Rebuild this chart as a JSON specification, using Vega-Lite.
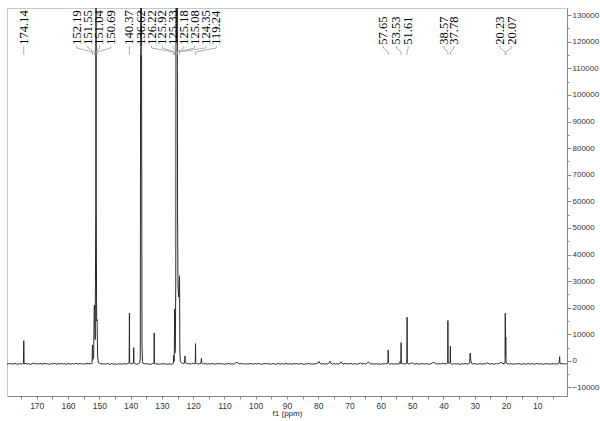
{
  "$schema": "https://vega.github.io/schema/vega-lite/v6.json",
  "width": 560,
  "height": 388,
  "autosize": {"type": "none"},
  "padding": {"left": 7, "top": 8, "right": 33, "bottom": 25},
  "background": "white",
  "config": {"view": {"stroke": "#c8c8c8", "strokeWidth": 1}},
  "datasets": {
    "spec": [
      {"p":179.5,"v":-1150},{"p":179,"v":-950},{"p":178.5,"v":-1200},{"p":178,"v":-1000},{"p":177.5,"v":-1250},{"p":177,"v":-900},{"p":176.5,"v":-1100},{"p":176,"v":-1300},{"p":175.5,"v":-950},{"p":175,"v":-1150},{"p":174.5,"v":-1050},
      {"p":174.25,"v":-1000},{"p":174.14,"v":7600},{"p":174.03,"v":-1100},
      {"p":173.5,"v":-900},{"p":173,"v":-1200},{"p":172.5,"v":-1000},{"p":172,"v":-1300},{"p":171.5,"v":-1050},{"p":171,"v":-850},{"p":170.5,"v":-1150},{"p":170,"v":-1000},{"p":169.5,"v":-1250},{"p":169,"v":-950},{"p":168.5,"v":-1100},{"p":168,"v":-1200},{"p":167.5,"v":-900},{"p":167,"v":-1150},{"p":166.5,"v":-1050},{"p":166,"v":-1300},{"p":165.5,"v":-1000},{"p":165,"v":-1150},{"p":164.5,"v":-850},{"p":164,"v":-1100},{"p":163.5,"v":-1250},{"p":163,"v":-1000},{"p":162.5,"v":-1150},{"p":162,"v":-900},{"p":161.5,"v":-1200},{"p":161,"v":-1050},{"p":160.5,"v":-1300},{"p":160,"v":-950},{"p":159.5,"v":-1100},{"p":159,"v":-1200},{"p":158.5,"v":-1000},{"p":158,"v":-1250},{"p":157.5,"v":-900},{"p":157,"v":-1100},{"p":156.5,"v":-1150},{"p":156,"v":-950},{"p":155.5,"v":-1250},{"p":155,"v":-1050},{"p":154.5,"v":-1200},{"p":154,"v":-900},{"p":153.5,"v":-1100},{"p":153,"v":-1000},{"p":152.5,"v":-1150},
      {"p":152.3,"v":-900},{"p":152.19,"v":6000},{"p":152.08,"v":500},{"p":151.8,"v":1500},{"p":151.62,"v":20000},{"p":151.55,"v":21000},{"p":151.3,"v":8000},{"p":151.12,"v":60000},{"p":151.04,"v":200000},{"p":150.97,"v":60000},{"p":150.85,"v":15000},{"p":150.69,"v":15500},{"p":150.55,"v":2000},{"p":150.3,"v":-700},
      {"p":150,"v":-900},{"p":149.5,"v":-1000},{"p":149,"v":-1200},{"p":148.5,"v":-1050},{"p":148,"v":-1250},{"p":147.5,"v":-950},{"p":147,"v":-1150},{"p":146.5,"v":-1300},{"p":146,"v":-1000},{"p":145.5,"v":-1200},{"p":145,"v":-1100},{"p":144.5,"v":-1350},{"p":144,"v":-1000},{"p":143.5,"v":-1250},{"p":143,"v":-1100},{"p":142.5,"v":-1300},{"p":142,"v":-950},{"p":141.5,"v":-1200},{"p":141,"v":-1050},{"p":140.6,"v":-800},
      {"p":140.45,"v":-900},{"p":140.37,"v":18000},{"p":140.29,"v":-700},{"p":140,"v":-1000},{"p":139.5,"v":-1100},{"p":139.1,"v":-800},{"p":139.0,"v":5000},{"p":138.9,"v":-700},{"p":138.5,"v":-1100},{"p":138,"v":-1250},{"p":137.5,"v":-1050},{"p":137.1,"v":-900},
      {"p":136.9,"v":1000},{"p":136.78,"v":140000},{"p":136.7,"v":200000},{"p":136.6,"v":200000},{"p":136.5,"v":130000},{"p":136.35,"v":6000},{"p":136.2,"v":-300},
      {"p":136,"v":-1000},{"p":135.5,"v":-1150},{"p":135,"v":-950},{"p":134.5,"v":-1250},{"p":134,"v":-1100},{"p":133.5,"v":-1300},{"p":133,"v":-1000},{"p":132.6,"v":-1150},
      {"p":132.52,"v":-900},{"p":132.45,"v":10500},{"p":132.38,"v":-900},
      {"p":132,"v":-1200},{"p":131.5,"v":-1050},{"p":131,"v":-1300},{"p":130.5,"v":-1100},{"p":130,"v":-1250},{"p":129.5,"v":-1000},{"p":129,"v":-1200},{"p":128.5,"v":-1150},{"p":128,"v":-1300},{"p":127.5,"v":-1050},{"p":127,"v":-1250},{"p":126.5,"v":-1100},
      {"p":126.3,"v":-900},{"p":126.22,"v":2000},{"p":126.1,"v":-200},{"p":126.0,"v":4000},{"p":125.92,"v":19500},{"p":125.82,"v":3000},{"p":125.7,"v":6000},{"p":125.55,"v":30000},{"p":125.45,"v":200000},{"p":125.33,"v":200000},{"p":125.25,"v":120000},{"p":125.18,"v":200000},{"p":125.12,"v":130000},{"p":125.08,"v":200000},{"p":125.0,"v":60000},{"p":124.85,"v":28000},{"p":124.6,"v":24000},{"p":124.45,"v":30000},{"p":124.35,"v":32000},{"p":124.25,"v":4000},{"p":124.1,"v":-300},
      {"p":123.8,"v":-700},{"p":123.5,"v":-900},{"p":123,"v":-1000},{"p":122.7,"v":-800},{"p":122.62,"v":1800},{"p":122.55,"v":-600},{"p":122.2,"v":-900},{"p":122,"v":-1100},{"p":121.5,"v":-1000},{"p":121,"v":-1200},{"p":120.5,"v":-1050},{"p":120,"v":-900},{"p":119.5,"v":-1150},
      {"p":119.32,"v":-900},{"p":119.24,"v":6500},{"p":119.16,"v":-800},
      {"p":119,"v":-1000},{"p":118.5,"v":-1200},{"p":118,"v":-1050},{"p":117.5,"v":-900},{"p":117.35,"v":1000},{"p":117.25,"v":-800},{"p":117,"v":-1000},{"p":116.5,"v":-1150},{"p":116,"v":-950},{"p":115.5,"v":-1250},{"p":115,"v":-1050},{"p":114.5,"v":-1200},{"p":114,"v":-950},{"p":113.5,"v":-1100},{"p":113,"v":-1250},{"p":112.5,"v":-1000},{"p":112,"v":-1150},{"p":111.5,"v":-900},{"p":111,"v":-1200},{"p":110.5,"v":-1050},{"p":110,"v":-1300},{"p":109.5,"v":-1000},{"p":109,"v":-1150},{"p":108.5,"v":-950},{"p":108,"v":-1200},{"p":107.5,"v":-1100},{"p":107,"v":-1300},{"p":106.5,"v":-800},{"p":106,"v":-500},{"p":105.5,"v":-1000},{"p":105,"v":-1150},{"p":104.5,"v":-900},{"p":104,"v":-1200},{"p":103.5,"v":-1050},{"p":103,"v":-1250},{"p":102.5,"v":-1000},{"p":102,"v":-1150},{"p":101.5,"v":-950},{"p":101,"v":-1250},{"p":100.5,"v":-1100},{"p":100,"v":-1000},
      {"p":99.5,"v":-1200},{"p":99,"v":-950},{"p":98.5,"v":-1150},{"p":98,"v":-1300},{"p":97.5,"v":-1000},{"p":97,"v":-1100},{"p":96.5,"v":-900},{"p":96,"v":-1200},{"p":95.5,"v":-1050},{"p":95,"v":-1250},{"p":94.5,"v":-1000},{"p":94,"v":-1150},{"p":93.5,"v":-1300},{"p":93,"v":-950},{"p":92.5,"v":-1100},{"p":92,"v":-1200},{"p":91.5,"v":-1000},{"p":91,"v":-1250},{"p":90.5,"v":-900},{"p":90,"v":-1100},{"p":89.5,"v":-1200},{"p":89,"v":-1000},{"p":88.5,"v":-1300},{"p":88,"v":-1050},{"p":87.5,"v":-1150},{"p":87,"v":-950},{"p":86.5,"v":-1250},{"p":86,"v":-1100},{"p":85.5,"v":-1000},{"p":85,"v":-1200},{"p":84.5,"v":-1300},{"p":84,"v":-1050},{"p":83.5,"v":-1150},{"p":83,"v":-900},{"p":82.5,"v":-1200},{"p":82,"v":-1100},{"p":81.5,"v":-1250},{"p":81,"v":-1000},{"p":80.5,"v":-1100},{"p":80,"v":-700},{"p":79.8,"v":-200},{"p":79.5,"v":-900},{"p":79,"v":-1150},{"p":78.5,"v":-1000},{"p":78,"v":-1250},{"p":77.5,"v":-1050},{"p":77,"v":-1200},{"p":76.5,"v":-600},{"p":76.3,"v":-100},{"p":76,"v":-900},{"p":75.5,"v":-1150},{"p":75,"v":-1000},{"p":74.5,"v":-1250},{"p":74,"v":-1050},{"p":73.5,"v":-1200},{"p":73,"v":-900},{"p":72.7,"v":-300},{"p":72.4,"v":-900},{"p":72,"v":-1100},{"p":71.5,"v":-950},{"p":71,"v":-1200},{"p":70.5,"v":-1000},{"p":70,"v":-1150},
      {"p":69.5,"v":-900},{"p":69,"v":-1250},{"p":68.5,"v":-1050},{"p":68,"v":-1100},{"p":67.5,"v":-1300},{"p":67,"v":-1000},{"p":66.5,"v":-800},{"p":66,"v":-1150},{"p":65.5,"v":-1000},{"p":65,"v":-1200},{"p":64.5,"v":-900},{"p":64,"v":-400},{"p":63.5,"v":-1000},{"p":63,"v":-1150},{"p":62.5,"v":-1050},{"p":62,"v":-1250},{"p":61.5,"v":-1000},{"p":61,"v":-1200},{"p":60.5,"v":-1100},{"p":60,"v":-1300},{"p":59.5,"v":-1050},{"p":59,"v":-1150},{"p":58.5,"v":-1000},{"p":58,"v":-1200},{"p":57.8,"v":-900},
      {"p":57.72,"v":-800},{"p":57.65,"v":4100},{"p":57.58,"v":-800},
      {"p":57.3,"v":-1100},{"p":57,"v":-1250},{"p":56.5,"v":-1000},{"p":56,"v":-1150},{"p":55.5,"v":-1200},{"p":55,"v":-1050},{"p":54.5,"v":-1250},{"p":54,"v":-900},{"p":53.9,"v":-300},{"p":53.7,"v":-1000},
      {"p":53.6,"v":-900},{"p":53.53,"v":6900},{"p":53.46,"v":-900},
      {"p":53,"v":-1150},{"p":52.5,"v":-1050},{"p":52,"v":-1200},{"p":51.8,"v":-1000},
      {"p":51.68,"v":-900},{"p":51.61,"v":16400},{"p":51.54,"v":-900},
      {"p":51.3,"v":-1050},{"p":51,"v":-1200},{"p":50.5,"v":-1000},{"p":50,"v":-700},{"p":49.5,"v":-1100},{"p":49,"v":-1200},{"p":48.5,"v":-1000},{"p":48,"v":-1150},{"p":47.5,"v":-1250},{"p":47,"v":-950},{"p":46.5,"v":-1100},{"p":46,"v":-1200},{"p":45.5,"v":-1000},{"p":45,"v":-1150},{"p":44.5,"v":-1250},{"p":44,"v":-1050},{"p":43.5,"v":-700},{"p":43,"v":-600},{"p":42.5,"v":-1000},{"p":42,"v":-1150},{"p":41.5,"v":-1050},{"p":41,"v":-1200},{"p":40.5,"v":-950},{"p":40,"v":-1100},{"p":39.5,"v":-1000},{"p":39,"v":-1200},{"p":38.8,"v":-1000},
      {"p":38.64,"v":-900},{"p":38.57,"v":15200},{"p":38.5,"v":-700},{"p":38.1,"v":-1000},{"p":37.85,"v":-800},{"p":37.78,"v":5600},{"p":37.7,"v":-900},
      {"p":37.5,"v":-1100},{"p":37,"v":-1250},{"p":36.5,"v":-1000},{"p":36,"v":-1200},{"p":35.5,"v":-1050},{"p":35,"v":-1150},{"p":34.5,"v":-1300},{"p":34,"v":-1000},{"p":33.5,"v":-1150},{"p":33,"v":-950},{"p":32.5,"v":-1200},{"p":32,"v":-1050},{"p":31.6,"v":-800},
      {"p":31.45,"v":2900},{"p":31.35,"v":1500},{"p":31.25,"v":200},
      {"p":31,"v":-900},{"p":30.5,"v":-1200},{"p":30,"v":-1050},{"p":29.5,"v":-1150},{"p":29,"v":-1300},{"p":28.5,"v":-1000},{"p":28,"v":-1100},{"p":27.5,"v":-1250},{"p":27,"v":-1000},{"p":26.5,"v":-1150},{"p":26,"v":-700},{"p":25.5,"v":-1050},{"p":25,"v":-1200},{"p":24.5,"v":-1000},{"p":24,"v":-1250},{"p":23.5,"v":-1100},{"p":23,"v":-1000},{"p":22.5,"v":-1150},{"p":22,"v":-900},{"p":21.6,"v":-400},{"p":21.3,"v":-900},{"p":21,"v":-1050},{"p":20.6,"v":-1000},
      {"p":20.3,"v":-800},{"p":20.23,"v":17900},{"p":20.15,"v":2000},{"p":20.07,"v":9000},{"p":19.98,"v":-800},
      {"p":19.5,"v":-1100},{"p":19,"v":-1200},{"p":18.5,"v":-1000},{"p":18,"v":-1150},{"p":17.5,"v":-1250},{"p":17,"v":-1050},{"p":16.5,"v":-1200},{"p":16,"v":-1000},{"p":15.5,"v":-1150},{"p":15,"v":-1300},{"p":14.5,"v":-1050},{"p":14,"v":-1100},{"p":13.5,"v":-1250},{"p":13,"v":-1000},{"p":12.5,"v":-1150},{"p":12,"v":-1200},{"p":11.5,"v":-1000},{"p":11,"v":-1250},{"p":10.5,"v":-1100},{"p":10,"v":-1000},{"p":9.5,"v":-1200},{"p":9,"v":-1050},{"p":8.5,"v":-1150},{"p":8,"v":-1300},{"p":7.5,"v":-1000},{"p":7,"v":-1150},{"p":6.5,"v":-1050},{"p":6,"v":-1250},{"p":5.5,"v":-1100},{"p":5,"v":-1000},{"p":4.5,"v":-1200},{"p":4,"v":-1050},{"p":3.5,"v":-1150},{"p":3,"v":-900},
      {"p":2.85,"v":1600},{"p":2.75,"v":-700},
      {"p":2.5,"v":-1100},{"p":2,"v":-950},{"p":1.5,"v":-1200},{"p":1,"v":-1050},{"p":0.5,"v":-1150}
    ],
    "labels": [
      {"t":"174.14","lx":174.14,"px":174.14},
      {"t":"152.19","lx":157.2,"px":152.19},
      {"t":"151.55","lx":153.6,"px":151.55},
      {"t":"151.04","lx":149.95,"px":151.04},
      {"t":"150.69","lx":146.3,"px":150.69},
      {"t":"140.37","lx":140.37,"px":140.37},
      {"t":"136.62","lx":136.7,"px":136.62},
      {"t":"126.22","lx":133.3,"px":126.22},
      {"t":"125.92","lx":129.85,"px":125.92},
      {"t":"125.33","lx":126.4,"px":125.33},
      {"t":"125.18","lx":122.95,"px":125.18},
      {"t":"125.08","lx":119.5,"px":125.08},
      {"t":"124.35","lx":116.05,"px":124.35},
      {"t":"119.24","lx":112.6,"px":119.24},
      {"t":"57.65","lx":59.2,"px":57.65},
      {"t":"53.53","lx":55.0,"px":53.53},
      {"t":"51.61","lx":51.25,"px":51.61},
      {"t":"38.57","lx":39.8,"px":38.57},
      {"t":"37.78","lx":36.6,"px":37.78},
      {"t":"20.23","lx":21.9,"px":20.23},
      {"t":"20.07","lx":18.2,"px":20.07}
    ]
  },
  "layer": [
    {
      "data": {"name": "spec"},
      "mark": {"type": "line", "color": "#2a2a2a", "strokeWidth": 1, "clip": true, "interpolate": "linear"},
      "encoding": {
        "x": {
          "field": "p", "type": "quantitative", "title": "f1 (ppm)",
          "scale": {"domain": [0.5, 179.5], "reverse": true, "nice": false, "zero": false},
          "axis": {
            "orient": "bottom", "grid": false, "tickCount": 500,
            "values": [5,10,15,20,25,30,35,40,45,50,55,60,65,70,75,80,85,90,95,100,105,110,115,120,125,130,135,140,145,150,155,160,165,170,175],
            "labelExpr": "datum.value % 10 === 0 ? datum.label : ''",
            "format": "d",
            "tickSize": 3, "tickColor": "#888", "domainColor": "#888",
            "labelFont": "Liberation Sans", "labelFontSize": 8.5, "labelColor": "#333", "labelPadding": 2,
            "labelOverlap": false, "labelFlush": false,
            "titleFont": "Liberation Sans", "titleFontSize": 8, "titleFontWeight": "normal", "titleColor": "#222", "titlePadding": 0
          }
        },
        "y": {
          "field": "v", "type": "quantitative", "title": null,
          "scale": {"domain": [-13200, 132700], "nice": false, "zero": false},
          "axis": {
            "orient": "right", "grid": false, "tickCount": 500,
            "values": [-10000,-5000,0,5000,10000,15000,20000,25000,30000,35000,40000,45000,50000,55000,60000,65000,70000,75000,80000,85000,90000,95000,100000,105000,110000,115000,120000,125000,130000],
            "labelExpr": "datum.value % 10000 === 0 ? datum.label : ''",
            "format": "d",
            "tickSize": {"condition": {"test": "datum.value % 10000 === 0", "value": 4}, "value": 2},
            "tickColor": "#888", "domainColor": "#888",
            "labelFont": "Liberation Sans", "labelFontSize": 8, "labelColor": "#333", "labelPadding": 1,
            "labelOverlap": false, "labelFlush": false
          }
        }
      }
    },
    {
      "data": {"name": "labels"},
      "mark": {"type": "rule", "color": "#999", "strokeWidth": 0.8},
      "encoding": {
        "x": {"field": "lx", "type": "quantitative", "title": "f1 (ppm)"},
        "y": {"datum": 118400, "type": "quantitative", "title": null},
        "y2": {"datum": 117670}
      }
    },
    {
      "data": {"name": "labels"},
      "mark": {"type": "rule", "color": "#999", "strokeWidth": 0.8},
      "encoding": {
        "x": {"field": "lx", "type": "quantitative", "title": "f1 (ppm)"},
        "x2": {"field": "px"},
        "y": {"datum": 117670, "type": "quantitative", "title": null},
        "y2": {"datum": 116170}
      }
    },
    {
      "data": {"name": "labels"},
      "mark": {"type": "rule", "color": "#999", "strokeWidth": 0.8},
      "encoding": {
        "x": {"field": "px", "type": "quantitative", "title": "f1 (ppm)"},
        "y": {"datum": 116170, "type": "quantitative", "title": null},
        "y2": {"datum": 115040}
      }
    },
    {
      "data": {"name": "labels"},
      "mark": {"type": "text", "angle": 270, "align": "left", "baseline": "middle", "font": "Liberation Serif", "fontSize": 12.5, "color": "#000"},
      "encoding": {
        "x": {"field": "lx", "type": "quantitative", "title": "f1 (ppm)"},
        "y": {"datum": 118900, "type": "quantitative", "title": null},
        "text": {"field": "t"}
      }
    }
  ]
}
